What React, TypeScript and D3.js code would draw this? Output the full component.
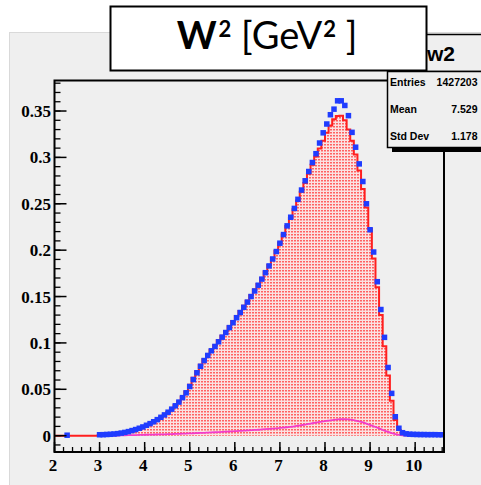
import React from "react";
import * as d3 from "d3";

// ---------- data ----------
const BIN_START = 2.96;
const BIN_WIDTH = 0.08;
// MC histogram (red, filled)
const mcValues = [
  0.0008, 0.001, 0.0012, 0.0015, 0.0018, 0.0022, 0.0027, 0.0034, 0.0043, 0.0053,
  0.0065, 0.0078, 0.0093, 0.011, 0.0128, 0.0148, 0.0172, 0.0198, 0.0225, 0.0255,
  0.029, 0.0328, 0.037, 0.042, 0.0475, 0.055, 0.0625, 0.0695, 0.0765, 0.0825,
  0.0878, 0.0925, 0.0975, 0.1028, 0.1078, 0.1128, 0.118, 0.1235, 0.129, 0.1345,
  0.14, 0.1455, 0.1515, 0.1575, 0.1635, 0.17, 0.177, 0.184, 0.1915, 0.199,
  0.208, 0.217, 0.226, 0.235, 0.244, 0.2535, 0.263, 0.2725, 0.2825, 0.292,
  0.301, 0.3095, 0.318, 0.3265, 0.3345, 0.341, 0.3445, 0.345, 0.34, 0.33,
  0.318, 0.303, 0.286, 0.266, 0.246, 0.223, 0.191, 0.16, 0.13, 0.0965,
  0.065, 0.0376, 0.0169, 0.006, 0.0026, 0.0012, 0.001, 0.0009, 0.0008, 0.0008,
  0.0007, 0.0007, 0.0007, 0.0007, 0.0007, 0.0007,
];
// Data points (blue squares)
const dataValues = [
  0.001, 0.0011, 0.0013, 0.0015, 0.0018, 0.0022, 0.0028, 0.0035, 0.0044, 0.0055,
  0.0066, 0.008, 0.0094, 0.0112, 0.013, 0.015, 0.0173, 0.0198, 0.0224, 0.0253,
  0.0286, 0.0322, 0.0362, 0.041, 0.0462, 0.053, 0.0605, 0.0678, 0.0748, 0.081,
  0.0865, 0.0915, 0.0962, 0.1012, 0.1062, 0.1112, 0.1165, 0.1218, 0.1272, 0.1328,
  0.1384, 0.144, 0.15, 0.156, 0.1622, 0.1688, 0.1757, 0.183, 0.1905, 0.1985,
  0.2075, 0.2168, 0.2262, 0.2355, 0.245, 0.2548, 0.2648, 0.2748, 0.2848, 0.2945,
  0.304, 0.3155, 0.3265, 0.336, 0.346, 0.352, 0.361, 0.361, 0.356, 0.345,
  0.327, 0.311, 0.293, 0.274, 0.25, 0.222, 0.198, 0.166, 0.136, 0.106,
  0.0735, 0.0456, 0.0204, 0.008, 0.0032, 0.002, 0.0016, 0.0014, 0.0013, 0.0012,
  0.0012, 0.0011, 0.0011, 0.0011, 0.001, 0.001,
];
const extraPointX = [2.28];
const extraPointY = [0.0005];
// Background (magenta)
const bgValues = [
  0, 0, 0.0001, 0.0001, 0.0002, 0.0002, 0.0003, 0.0004, 0.0005, 0.0006,
  0.0007, 0.0008, 0.0009, 0.001, 0.0011, 0.0012, 0.0013, 0.0014, 0.0015, 0.0016,
  0.0017, 0.0019, 0.002, 0.0022, 0.0023, 0.0025, 0.0026, 0.0028, 0.003, 0.0031,
  0.0033, 0.0035, 0.0037, 0.0039, 0.0041, 0.0043, 0.0045, 0.0047, 0.005, 0.0052,
  0.0054, 0.0057, 0.0059, 0.0062, 0.0064, 0.0067, 0.007, 0.0073, 0.0076, 0.0079,
  0.0083, 0.0087, 0.0091, 0.0096, 0.0101, 0.0107, 0.0113, 0.012, 0.0127, 0.0134,
  0.0141, 0.0148, 0.0154, 0.016, 0.0166, 0.0171, 0.0175, 0.0177, 0.0177, 0.0175,
  0.017, 0.0163, 0.0154, 0.0143, 0.013, 0.0116, 0.0101, 0.0086, 0.007, 0.0055,
  0.004, 0.0027, 0.0016, 0.0008, 0.0003, 0.0001, 0, 0, 0, 0,
  0, 0, 0, 0, 0, 0,
];
const xTickLabels = [2, 3, 4, 5, 6, 7, 8, 9, 10];
const yTickLabels = [0, 0.05, 0.1, 0.15, 0.2, 0.25, 0.3, 0.35];
const statsLabels = ["Entries", "Mean", "Std Dev"];
const statsValues = ["1427203", "7.529", "1.178"];
const histName = "w2";

// ---------- layout ----------
const W = 481;
const H = 485;
const X_MIN = 2;
const X_MAX = 10.64;
const xs = d3.scaleLinear().domain([X_MIN, X_MAX]).range([54.5, 444]);
const ys = d3.scaleLinear().domain([-0.0176, 0.3829]).range([452, 80.5]);

export default function App() {
  const n = mcValues.length;
  const edges = d3.range(n + 1).map((i) => BIN_START + i * BIN_WIDTH);
  const centers = d3.range(n).map((i) => BIN_START + (i + 0.5) * BIN_WIDTH);

  const stepPts: [number, number][] = [[X_MIN, 0], [edges[0], 0]];
  mcValues.forEach((v, i) => {
    stepPts.push([edges[i], v]);
    stepPts.push([Math.min(edges[i + 1], X_MAX), v]);
  });
  const line = d3.line<[number, number]>().x((d) => xs(d[0])).y((d) => ys(d[1]));
  const area = d3
    .area<[number, number]>()
    .x((d) => xs(d[0]))
    .y0(ys(0))
    .y1((d) => ys(d[1]));

  const bgPts: [number, number][] = centers.map((c, i) => [c, bgValues[i]]);
  const bgLine = d3
    .line<[number, number]>()
    .x((d) => xs(d[0]))
    .y((d) => ys(d[1]))
    .curve(d3.curveMonotoneX);

  const dataPts: [number, number][] = centers
    .map((c, i) => [c, dataValues[i]] as [number, number])
    .concat(extraPointX.map((x, i) => [x, extraPointY[i]] as [number, number]));

  const yMinor = d3.range(-1, 39).map((k) => k * 0.01);
  const xMinor = d3.range(0, 44).map((k) => 2 + k * 0.2).filter((v) => v <= X_MAX + 1e-9);

  const frameX0 = xs.range()[0];
  const frameX1 = xs.range()[1];
  const frameY0 = ys.range()[1];
  const frameY1 = ys.range()[0];
  const sq = 5.5;

  return (
    <svg
      width={W}
      height={H}
      style={{ position: "absolute", left: 0, top: 0, background: "#ffffff" }}
    >
      <defs>
        <pattern id="dots" width={3} height={3} patternUnits="userSpaceOnUse">
          <rect width={3} height={3} fill="#fbe2e2" />
          <rect width={2} height={1.5} fill="#ff6262" />
        </pattern>
        <clipPath id="frameClip">
          <rect x={frameX0} y={frameY0} width={frameX1 - frameX0} height={frameY1 - frameY0} />
        </clipPath>
      </defs>

      {/* canvas */}
      <rect x={9.5} y={32.5} width={W} height={H} fill="#efefef" stroke="#d9d9d9" strokeWidth={1} />

      {/* histograms */}
      <g clipPath="url(#frameClip)">
        <path d={area(stepPts) || ""} fill="url(#dots)" stroke="none" />
        <path d={line(stepPts) || ""} fill="none" stroke="#ff1f1f" strokeWidth={2} />
        <path d={bgLine(bgPts) || ""} fill="none" stroke="#f23ccb" strokeWidth={1.8} />
        {dataPts.map((d, i) => (
          <rect
            key={i}
            x={xs(d[0]) - sq / 2}
            y={ys(d[1]) - sq / 2}
            width={sq}
            height={sq}
            fill="#1f3cff"
          />
        ))}
      </g>

      {/* frame */}
      <rect
        x={frameX0}
        y={frameY0}
        width={frameX1 - frameX0}
        height={frameY1 - frameY0}
        fill="none"
        stroke="#000"
        strokeWidth={2}
      />

      {/* y ticks */}
      {yMinor.map((v, i) => (
        <line key={"ym" + i} x1={frameX0} x2={frameX0 + 6} y1={ys(v)} y2={ys(v)} stroke="#000" strokeWidth={1.3} />
      ))}
      {yTickLabels.map((v, i) => (
        <g key={"y" + i}>
          <line x1={frameX0} x2={frameX0 + 12} y1={ys(v)} y2={ys(v)} stroke="#000" strokeWidth={1.5} />
          <text
            x={51}
            y={ys(v) + 6}
            textAnchor="end"
            fontFamily="'Liberation Serif', 'DejaVu Serif', serif"
            fontWeight="bold"
            fontSize={17}
            fill="#000"
          >
            {String(v)}
          </text>
        </g>
      ))}

      {/* x ticks */}
      {xMinor.map((v, i) => (
        <line key={"xm" + i} x1={xs(v)} x2={xs(v)} y1={frameY1} y2={frameY1 - 5} stroke="#000" strokeWidth={1.3} />
      ))}
      {xTickLabels.map((v, i) => (
        <g key={"x" + i}>
          <line x1={xs(v)} x2={xs(v)} y1={frameY1} y2={frameY1 - 10} stroke="#000" strokeWidth={1.5} />
          <text
            x={xs(v) - 1.5}
            y={471}
            textAnchor="middle"
            fontFamily="'Liberation Serif', 'DejaVu Serif', serif"
            fontWeight="bold"
            fontSize={17}
            fill="#000"
          >
            {String(v)}
          </text>
        </g>
      ))}

      {/* stats box */}
      <rect x={400} y={34.5} width={100} height={37} fill="#efefef" stroke="#000" strokeWidth={1.5} />
      <text x={441} y={61} textAnchor="middle" fontFamily="'Liberation Sans', Arial, sans-serif" fontWeight="bold" fontSize={21} fill="#000">
        {histName}
      </text>
      <rect x={392} y={147} width={100} height={5} fill="#000" />
      <rect x={387.5} y={71.5} width={100} height={76} fill="#efefef" stroke="#000" strokeWidth={1.5} />
      {statsLabels.map((s, i) => (
        <g key={"s" + i}>
          <text x={390} y={85.5 + i * 27} fontFamily="'Liberation Sans', Arial, sans-serif" fontWeight="bold" fontSize={10.5} fill="#000">
            {s}
          </text>
          <text x={477.5} y={85.5 + i * 27} textAnchor="end" fontFamily="'Liberation Sans', Arial, sans-serif" fontWeight="bold" fontSize={10.5} fill="#000">
            {statsValues[i]}
          </text>
        </g>
      ))}

      {/* title box */}
      <rect x={110.5} y={6.5} width={316} height={64} fill="#ffffff" stroke="#000" strokeWidth={2} />
      <text x={267} y={49} textAnchor="middle" fontFamily="Lato, 'Open Sans', sans-serif" fontSize={38} fill="#000">
        <tspan fontWeight="bold">W</tspan>
        <tspan fontWeight="bold" fontSize={22} dy={-12} dx={2}>2</tspan>
        <tspan dy={12}> [GeV</tspan>
        <tspan fontWeight="bold" fontSize={22} dy={-12} dx={1}>2</tspan>
        <tspan dy={12}> ]</tspan>
      </text>
    </svg>
  );
}
